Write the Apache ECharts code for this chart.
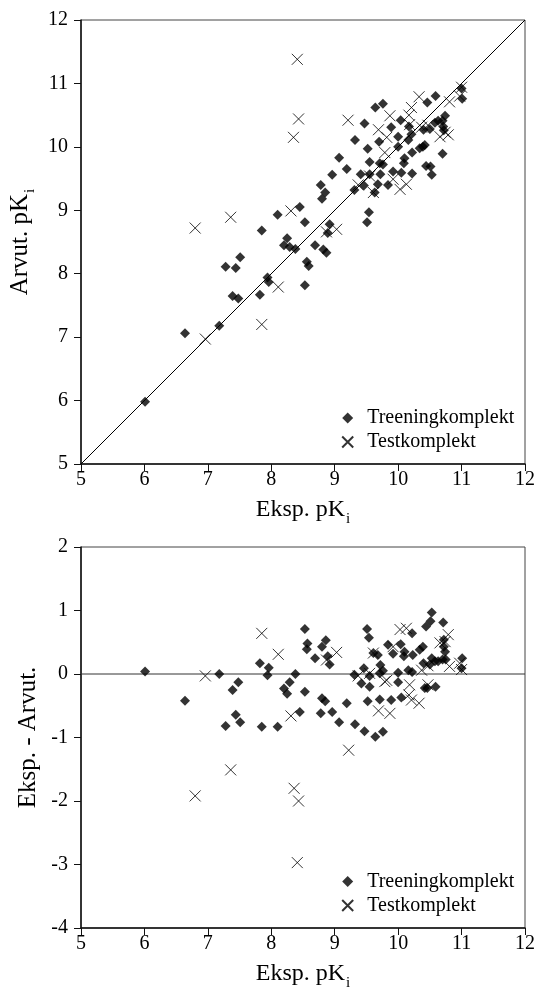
<!DOCTYPE html>
<html>
<head>
<meta charset="utf-8">
<script src="https://cdn.jsdelivr.net/npm/echarts@6/dist/echarts.min.js"></script>
<style>
html,body{margin:0;padding:0;background:#fff;}
#chart{width:538px;height:989px;}
</style>
</head>
<body>
<div id="chart"></div>
<script>
// ---- data ----
var seriesNames = ['Treeningkomplekt', 'Testkomplekt'];
var axisTicks = { x: [5, 12], top: [5, 12], bottom: [-4, 2] };

// top chart: experimental vs predicted pKi
var trainTop = [
  [6.01,5.98],[6.64,7.06],[7.18,7.18],[7.28,8.11],[7.44,8.09],[7.51,8.26],[7.39,7.65],[7.48,7.61],
  [7.82,7.67],[7.94,7.94],[7.96,7.87],[8.20,8.45],[8.29,8.42],[8.38,8.39],[8.69,8.45],[8.82,8.38],
  [8.87,8.33],[8.56,8.19],[8.59,8.12],[8.53,7.82],[7.85,8.68],[8.10,8.93],[8.25,8.56],[8.45,9.05],
  [8.53,8.81],[8.78,9.40],[8.80,9.18],[8.85,9.28],[8.89,8.64],[8.92,8.78],[9.07,9.83],[8.96,9.56],
  [9.19,9.65],[9.31,9.32],[9.32,10.11],[9.47,10.37],[9.64,10.62],[9.76,10.68],[9.52,9.97],[9.55,9.76],
  [9.41,9.57],[9.55,9.57],[9.46,9.39],[9.68,9.41],[9.63,9.28],[9.54,8.97],[9.51,8.81],[9.70,10.08],
  [9.72,9.57],[9.71,9.74],[9.76,9.72],[9.84,9.40],[9.89,10.31],[9.92,9.61],[10.00,10.00],[10.00,10.16],
  [10.04,10.42],[10.10,9.82],[10.09,9.74],[10.05,9.59],[10.16,10.11],[10.17,10.32],[10.21,10.20],
  [10.22,9.91],[10.22,9.58],[10.34,9.98],[10.39,10.00],[10.42,10.03],[10.40,10.27],[10.46,10.70],
  [10.50,10.28],[10.44,9.70],[10.51,9.69],[10.53,9.56],[10.59,10.80],[10.58,10.38],[10.63,10.41],
  [10.70,10.41],[10.74,10.49],[10.71,10.32],[10.72,10.26],[10.70,9.89],[11.00,10.92],[11.01,10.76]
];
var testTop = [
  [6.80,8.72],[6.96,6.97],[7.36,8.89],[7.85,7.20],[8.11,7.79],[8.31,8.99],[8.35,10.15],[8.41,11.38],
  [8.43,10.44],[8.87,8.66],[9.03,8.70],[9.21,10.42],[9.37,9.40],[9.55,9.54],[9.61,9.28],[9.69,10.27],
  [9.79,9.91],[9.82,10.15],[9.87,10.49],[9.92,9.49],[10.03,9.33],[10.13,9.41],[10.17,10.50],[10.18,10.35],
  [10.21,10.62],[10.33,10.79],[10.37,10.31],[10.47,10.34],[10.66,10.16],[10.74,10.23],[10.79,10.19],
  [10.81,10.71],[10.97,10.80],[11.00,10.94]
];
var identityLine = [[5,5],[12,12]];

// bottom chart: residuals (Eksp. - Arvut.)
var trainResid = [
  [6.01,0.04],[6.64,-0.42],[7.18,0.00],[7.28,-0.82],[7.39,-0.25],[7.48,-0.13],[7.44,-0.64],[7.51,-0.76],
  [7.82,0.17],[7.96,0.10],[7.94,-0.02],[7.85,-0.83],[8.10,-0.83],[8.20,-0.23],[8.25,-0.31],[8.29,-0.13],
  [8.38,0.00],[8.45,-0.60],[8.53,0.71],[8.57,0.48],[8.56,0.39],[8.53,-0.28],[8.69,0.25],[8.78,-0.62],
  [8.80,0.43],[8.86,0.53],[8.80,-0.38],[8.85,-0.43],[8.92,0.15],[8.89,0.28],[8.96,-0.60],[9.07,-0.76],
  [9.19,-0.46],[9.31,-0.01],[9.32,-0.79],[9.47,-0.90],[9.64,-0.99],[9.76,-0.91],[9.51,0.71],[9.54,0.57],
  [9.46,0.09],[9.42,-0.15],[9.55,-0.20],[9.52,-0.43],[9.55,-0.03],[9.61,0.33],[9.68,0.30],[9.72,0.14],
  [9.71,0.01],[9.76,0.05],[9.71,-0.40],[9.84,0.46],[9.92,0.32],[9.89,-0.41],[10.00,0.02],[10.00,-0.13],
  [10.04,0.47],[10.05,-0.37],[10.10,0.35],[10.09,0.28],[10.16,0.06],[10.22,0.64],[10.22,0.03],[10.23,0.30],
  [10.34,0.38],[10.39,0.43],[10.40,0.17],[10.42,-0.22],[10.44,0.75],[10.46,-0.22],[10.50,0.15],[10.51,0.83],
  [10.53,0.97],[10.53,0.25],[10.59,-0.20],[10.58,0.20],[10.63,0.20],[10.70,0.23],[10.71,0.81],[10.72,0.43],
  [10.74,0.35],[10.72,0.54],[10.75,0.23],[11.01,0.25],[11.00,0.09]
];
var testResid = [
  [6.80,-1.92],[6.96,-0.03],[7.36,-1.51],[7.85,0.64],[8.11,0.31],[8.31,-0.66],[8.36,-1.80],[8.43,-2.00],
  [8.41,-2.97],[8.87,0.22],[9.03,0.34],[9.22,-1.20],[9.37,-0.03],[9.55,0.01],[9.61,0.33],[9.69,-0.58],
  [9.79,-0.12],[9.82,-0.10],[9.87,-0.62],[9.92,0.43],[10.03,0.70],[10.13,0.72],[10.17,-0.33],[10.18,-0.17],
  [10.21,-0.41],[10.33,-0.46],[10.37,0.06],[10.47,0.13],[10.47,-0.17],[10.66,0.49],[10.74,0.51],[10.79,0.62],
  [10.81,0.12],[10.97,0.17],[11.00,0.07]
];
var zeroLine = [[5,0],[12,0]];

// ---- styling ----
var FONT = 'Liberation Serif';
var crossPath = 'path://M0 0L10 10M10 0L0 10';
var subRich = function (size) {
  return {
    b: { fontSize: size, fontFamily: FONT, color: '#000', lineHeight: 26, verticalAlign: 'top' },
    s: { fontSize: 15, fontFamily: FONT, color: '#000', lineHeight: 29, verticalAlign: 'bottom', padding: [0, 0, 0, 1] }
  };
};

function xAxisCfg(gridIndex) {
  return {
    gridIndex: gridIndex, type: 'value', min: axisTicks.x[0], max: axisTicks.x[1], interval: 1,
    name: '{b|Eksp. pK}{s|i}', nameLocation: 'middle', nameGap: 34,
    nameTextStyle: { color: '#000', fontFamily: FONT, rich: subRich(24) },
    axisLine: { show: true, onZero: false, lineStyle: { color: '#111', width: 1.5 } },
    axisTick: { show: true, inside: false, length: 7, lineStyle: { color: '#111', width: 1 } },
    axisLabel: { color: '#000', fontFamily: FONT, fontSize: 20, margin: 6 },
    splitLine: { show: false }
  };
}
function yAxisCfg(gridIndex, range, name, gap) {
  return {
    gridIndex: gridIndex, type: 'value', min: range[0], max: range[1], interval: 1,
    name: name, nameLocation: 'middle', nameGap: gap,
    nameTextStyle: { color: '#000', fontFamily: FONT, fontSize: 25, rich: subRich(25) },
    axisLine: { show: true, onZero: false, lineStyle: { color: '#111', width: 1.5 } },
    axisTick: { show: true, inside: false, length: 7, lineStyle: { color: '#111', width: 1 } },
    axisLabel: { color: '#000', fontFamily: FONT, fontSize: 20, margin: 13 },
    splitLine: { show: false }
  };
}
function legendCfg(top) {
  return {
    data: seriesNames, orient: 'vertical', left: 336.2, top: top,
    itemWidth: 11, itemHeight: 11, itemGap: 4, selectedMode: false,
    textStyle: { fontFamily: FONT, fontSize: 20, color: '#000', lineHeight: 20, padding: [0, 0, 0, 9] }
  };
}
var trainStyle = { symbol: 'diamond', symbolSize: 10, itemStyle: { color: '#000' } };
var testStyle = { symbol: crossPath, symbolSize: 11,
  itemStyle: { color: 'rgba(0,0,0,0)', borderColor: '#000', borderWidth: 1 } };

var option = {
  backgroundColor: '#fff',
  animation: false,
  grid: [
    { left: 81, top: 20, width: 444, height: 444, show: true, borderColor: '#444', borderWidth: 1,
      containLabel: false, outerBoundsMode: 'none' },
    { left: 81, top: 547, width: 444, height: 381, show: true, borderColor: '#444', borderWidth: 1,
      containLabel: false, outerBoundsMode: 'none' }
  ],
  legend: [legendCfg(403), legendCfg(866.5)],
  xAxis: [xAxisCfg(0), xAxisCfg(1)],
  yAxis: [
    yAxisCfg(0, axisTicks.top, '{b|Arvut. pK}{s|i}', 39),
    yAxisCfg(1, axisTicks.bottom, 'Eksp. - Arvut.', 40)
  ],
  series: [
    { type: 'line', xAxisIndex: 0, yAxisIndex: 0, data: identityLine, symbol: 'none', silent: true,
      lineStyle: { color: '#000', width: 1 }, z: 1 },
    { type: 'line', xAxisIndex: 1, yAxisIndex: 1, data: zeroLine, symbol: 'none', silent: true,
      lineStyle: { color: '#333', width: 1 }, z: 1 },
    Object.assign({ type: 'scatter', name: seriesNames[0], xAxisIndex: 0, yAxisIndex: 0, data: trainTop, z: 3 }, trainStyle),
    Object.assign({ type: 'scatter', name: seriesNames[1], xAxisIndex: 0, yAxisIndex: 0, data: testTop, z: 4 }, testStyle),
    Object.assign({ type: 'scatter', name: seriesNames[0], xAxisIndex: 1, yAxisIndex: 1, data: trainResid, z: 3 }, trainStyle),
    Object.assign({ type: 'scatter', name: seriesNames[1], xAxisIndex: 1, yAxisIndex: 1, data: testResid, z: 4 }, testStyle)
  ]
};
var chart = echarts.init(document.getElementById('chart'), null, { renderer: 'canvas' });
chart.setOption(option);
</script>
</body>
</html>
